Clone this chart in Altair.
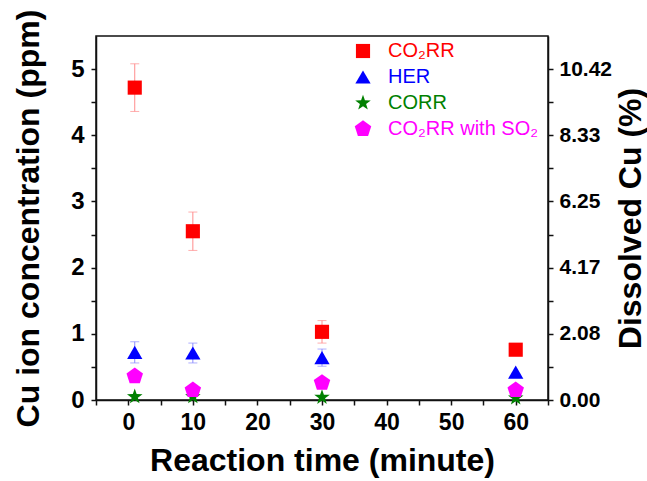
import altair as alt
import pandas as pd

# ---------------- data ----------------
times = [1, 10, 30, 60]
series_names = ["CO₂RR", "HER", "CORR", "CO₂RR with SO₂"]
co2rr = [4.72, 2.55, 1.03, 0.76]
co2rr_err = [0.36, 0.29, 0.17, 0.0]
her = [0.72, 0.71, 0.64, 0.42]
her_err = [0.16, 0.15, 0.13, 0.0]
corr = [0.05, 0.05, 0.04, 0.03]
corr_err = [0.0, 0.0, 0.0, 0.0]
so2 = [0.36, 0.15, 0.26, 0.15]
so2_err = [0.0, 0.0, 0.0, 0.0]

x_tick_values = [-5, 0, 5, 10, 15, 20, 25, 30, 35, 40, 45, 50, 55, 60, 65]
y_tick_values = [0, 0.5, 1, 1.5, 2, 2.5, 3, 3.5, 4, 4.5, 5]
pct_labels = ["0.00", "2.08", "4.17", "6.25", "8.33", "10.42"]

# ---------------- styles ----------------
colors = ["#FF0000", "#0000FF", "#008000", "#FF00FF"]
err_colors = ["#FF8C8C", "#8C8CFF", "#66B366", "#FF8CFF"]
marker_sizes = [200, 300, 240, 270]
STAR = ("M0,-1 L0.235,-0.324 L0.951,-0.309 L0.380,0.124 L0.588,0.809 "
        "L0,0.4 L-0.588,0.809 L-0.380,0.124 L-0.951,-0.309 L-0.235,-0.324 Z")
PENT = "M0,-1 L0.951,-0.309 L0.588,0.809 L-0.588,0.809 L-0.951,-0.309 Z"
shapes = ["square", "triangle-up", STAR, PENT]
FONT = "Liberation Sans"

rows = []
for name, vals, errs, ec in zip(series_names, [co2rr, her, corr, so2],
                                [co2rr_err, her_err, corr_err, so2_err], err_colors):
    for t, v, e in zip(times, vals, errs):
        rows.append({"series": name, "time": t, "value": v,
                     "lo": v - e, "hi": v + e, "err": e, "ecolor": ec})
df = pd.DataFrame(rows)
df_err = df[df["err"] > 0]

xscale = alt.Scale(domain=[-5, 65], nice=False, zero=False)
yscale = alt.Scale(domain=[0, 5.5], nice=False, zero=True)

label_color_expr = ""
for n, c in zip(series_names[:-1], colors[:-1]):
    label_color_expr += f"datum.label == '{n}' ? '{c}' : "
label_color_expr += f"'{colors[-1]}'"

legend = alt.Legend(title=None, orient="none", legendX=257, legendY=5,
                    labelFont=FONT, labelFontSize=20, labelFontWeight="normal",
                    labelColor={"expr": label_color_expr},
                    symbolSize=250, symbolStrokeWidth=0, symbolOpacity=1,
                    rowPadding=6, padding=0, labelOffset=15)

x_axis = alt.Axis(values=x_tick_values,
                  labelExpr="datum.value % 10 == 0 && datum.value >= 0 && datum.value <= 60 ? format(datum.value, 'd') : ''",
                  title="Reaction time (minute)",
                  labelFontSize=23, titleFontSize=32,
                  labelPadding=6, titlePadding=11)
x_enc = alt.X("time:Q", scale=xscale, axis=x_axis)

left_axis = alt.Axis(values=y_tick_values,
                     labelExpr="datum.value % 1 == 0 ? format(datum.value, 'd') : ''",
                     title="Cu ion concentration (ppm)",
                     labelFontSize=24, titleFontSize=32,
                     labelPadding=7, titlePadding=25)

pct_arr = "[" + ",".join(f"'{p}'" for p in pct_labels) + "]"
right_axis = alt.Axis(orient="right", values=y_tick_values,
                      labelExpr=f"datum.value % 1 == 0 ? {pct_arr}[datum.value] : ''",
                      title="Dissolved Cu (%)",
                      labelFontSize=21, titleFontSize=32,
                      labelPadding=6, titlePadding=4,
                      titleAngle=270, titleBaseline="top")

rules = alt.Chart(df_err).mark_rule(strokeWidth=1).encode(
    x=x_enc,
    y=alt.Y("lo:Q", scale=yscale, axis=None),
    y2="hi:Q",
    color=alt.Color("ecolor:N", scale=None),
)
caps_lo = alt.Chart(df_err).mark_tick(orient="horizontal", size=9, thickness=1).encode(
    x=x_enc,
    y=alt.Y("lo:Q", scale=yscale, axis=None),
    color=alt.Color("ecolor:N", scale=None),
)
caps_hi = alt.Chart(df_err).mark_tick(orient="horizontal", size=9, thickness=1).encode(
    x=x_enc,
    y=alt.Y("hi:Q", scale=yscale, axis=None),
    color=alt.Color("ecolor:N", scale=None),
)

points = alt.Chart(df).mark_point(filled=True, opacity=1, fillOpacity=1, strokeWidth=0).encode(
    x=x_enc,
    y=alt.Y("value:Q", scale=yscale, axis=left_axis),
    color=alt.Color("series:N", scale=alt.Scale(domain=series_names, range=colors),
                    sort=series_names, legend=legend),
    shape=alt.Shape("series:N", scale=alt.Scale(domain=series_names, range=shapes),
                    sort=series_names, legend=legend),
    size=alt.Size("series:N", scale=alt.Scale(domain=series_names, range=marker_sizes),
                  legend=None),
)

right = alt.Chart(df).mark_point(opacity=0).encode(
    x=x_enc,
    y=alt.Y("value:Q", scale=yscale, axis=right_axis),
)

chart = alt.layer(rules, caps_lo, caps_hi, points, right).resolve_axis(
    y="independent"
).properties(
    width=452, height=364,
    autosize=alt.AutoSizeParams(type="none"),
    padding={"left": 96, "top": 36, "right": 99, "bottom": 81},
).configure_view(
    stroke="#111111", strokeWidth=1.5
).configure_point(
    opacity=1, fillOpacity=1
).configure_legend(
    symbolOpacity=1
).configure_axis(
    labelFont=FONT, titleFont=FONT, labelFontWeight="bold", titleFontWeight="bold",
    labelColor="black", titleColor="black",
    domainColor="#111111", domainWidth=1.5, tickColor="#111111", tickWidth=1.5,
    tickSize=5, grid=False,
)

chart.save("out.html", embed_options={"renderer": "svg", "actions": False})
